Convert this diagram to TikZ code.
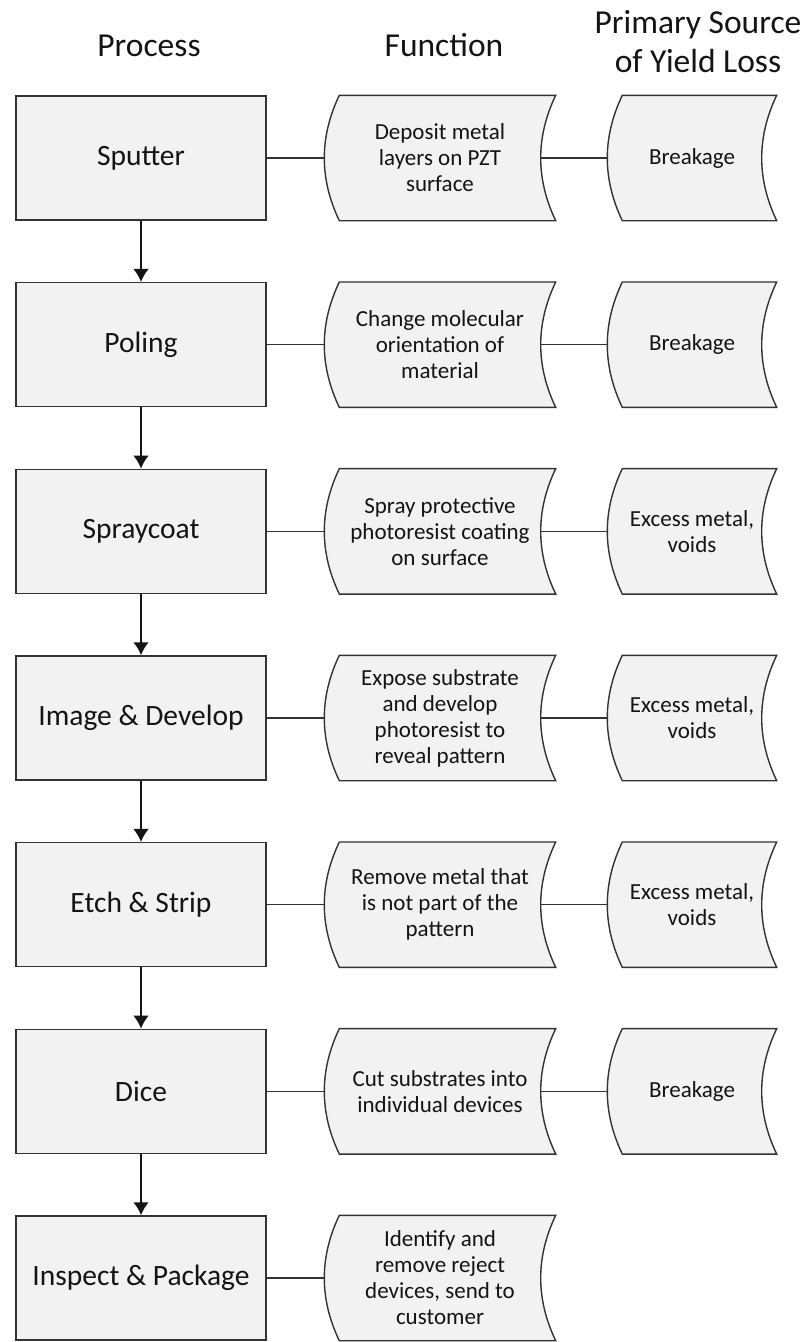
\documentclass[tikz,border=0pt]{standalone}
\usepackage{fontspec}
\setmainfont{Carlito}
\usepackage{tikz}
\usetikzlibrary{shapes,arrows,arrows.meta,positioning,calc}

\definecolor{edge}{HTML}{333333}
\definecolor{boxfill}{HTML}{F2F2F2}

% stored-data box: bulging left side, hollow right side
\makeatletter
\def\dsbulge{15pt}
\pgfdeclareshape{datastore}{
  \inheritsavedanchors[from=rectangle]
  \inheritanchorborder[from=rectangle]
  \inheritanchor[from=rectangle]{center}
  \inheritanchor[from=rectangle]{north}
  \inheritanchor[from=rectangle]{south}
  \inheritanchor[from=rectangle]{west}
  \inheritanchor[from=rectangle]{east}
  \anchor{inner east}{%
    \pgf@process{\southwest}\pgf@ya=\pgf@y
    \pgf@process{\northeast}%
    \pgf@y=.5\pgf@y \advance\pgf@y by .5\pgf@ya
    \advance\pgf@x by -\dsbulge}
  \backgroundpath{%
    \pgf@process{\southwest}\edef\ds@l{\the\pgf@x}\edef\ds@b{\the\pgf@y}%
    \pgf@process{\northeast}\edef\ds@r{\the\pgf@x}\edef\ds@t{\the\pgf@y}%
    \pgfmathsetlengthmacro\ds@m{(\ds@t+\ds@b)/2}%
    \pgfmathsetlengthmacro\ds@li{\ds@l+\dsbulge}%
    \pgfmathsetlengthmacro\ds@lc{\ds@l-\dsbulge}%
    \pgfmathsetlengthmacro\ds@rc{\ds@r-2*\dsbulge}%
    \pgfpathmoveto{\pgfqpoint{\ds@li}{\ds@t}}%
    \pgfpathlineto{\pgfqpoint{\ds@r}{\ds@t}}%
    \pgfpathquadraticcurveto{\pgfqpoint{\ds@rc}{\ds@m}}{\pgfqpoint{\ds@r}{\ds@b}}%
    \pgfpathlineto{\pgfqpoint{\ds@li}{\ds@b}}%
    \pgfpathquadraticcurveto{\pgfqpoint{\ds@lc}{\ds@m}}{\pgfqpoint{\ds@li}{\ds@t}}%
    \pgfpathclose}
}
\makeatother

\begin{document}
\begin{tikzpicture}[x=1pt, y=1pt, on grid, node distance=186.67pt, text=black!92,
    head/.style={font=\fontsize{33.5}{39}\selectfont, align=center},
    proc/.style={draw=edge, fill=boxfill, line width=1.4pt, minimum width=250pt,
      minimum height=124pt, font=\fontsize{29.5}{34}\selectfont},
    func/.style={shape=datastore, draw=edge, fill=boxfill, line width=1.4pt,
      minimum width=230pt, minimum height=124pt, inner sep=0pt, align=center,
      font=\fontsize{23}{26}\selectfont},
    loss/.style={func, minimum width=168pt},
    link/.style={draw=edge, line width=1.3pt},
    flow/.style={-{Latex[length=13pt,width=16pt]}, line width=2.6pt, draw=black!92}]
  \useasboundingbox (0,0) rectangle (811,-1342);

  \node[head, anchor=base] (hproc) at (149,-56) {Process};
  \node[head, anchor=base] (hfunc) at (444,-56) {Function};
  \node[head, anchor=base] (hloss) at (698,-72) {Primary Source\\of Yield Loss};

  \node[proc] (sputter) at (141,-158) {Sputter};
  \node[proc, below=of sputter] (poling) {Poling};
  \node[proc, below=of poling] (spray) {Spraycoat};
  \node[proc, below=of spray] (image) {Image \& Develop};
  \node[proc, below=of image] (etch) {Etch \& Strip};
  \node[proc, below=of etch] (dice) {Dice};
  \node[proc, below=of dice] (inspect) {Inspect \& Package};

  \node[func, right=299pt of sputter] (fsputter) {Deposit metal\\layers on PZT\\surface};
  \node[func, right=299pt of poling] (fpoling) {Change molecular\\orientation of\\material};
  \node[func, right=299pt of spray] (fspray) {Spray protective\\photoresist coating\\on surface};
  \node[func, right=299pt of image] (fimage) {Expose substrate\\and develop\\photoresist to\\reveal pattern};
  \node[func, right=299pt of etch] (fetch) {Remove metal that\\is not part of the\\pattern};
  \node[func, right=299pt of dice] (fdice) {Cut substrates into\\individual devices};
  \node[func, right=299pt of inspect] (finspect) {Identify and\\remove reject\\devices, send to\\customer};

  \node[loss, right=252pt of fsputter] (lsputter) {Breakage};
  \node[loss, right=252pt of fpoling] (lpoling) {Breakage};
  \node[loss, right=252pt of fspray] (lspray) {Excess metal,\\voids};
  \node[loss, right=252pt of fimage] (limage) {Excess metal,\\voids};
  \node[loss, right=252pt of fetch] (letch) {Excess metal,\\voids};
  \node[loss, right=252pt of fdice] (ldice) {Breakage};

  \foreach \a/\b in {sputter/poling, poling/spray, spray/image, image/etch,
      etch/dice, dice/inspect}
    \draw[flow] (\a) -- (\b);

  \foreach \p in {sputter, poling, spray, image, etch, dice, inspect}
    \draw[link] (\p) -- (f\p);

  \foreach \p in {sputter, poling, spray, image, etch, dice}
    \draw[link] (f\p.inner east) -- (l\p);
\end{tikzpicture}
\end{document}
